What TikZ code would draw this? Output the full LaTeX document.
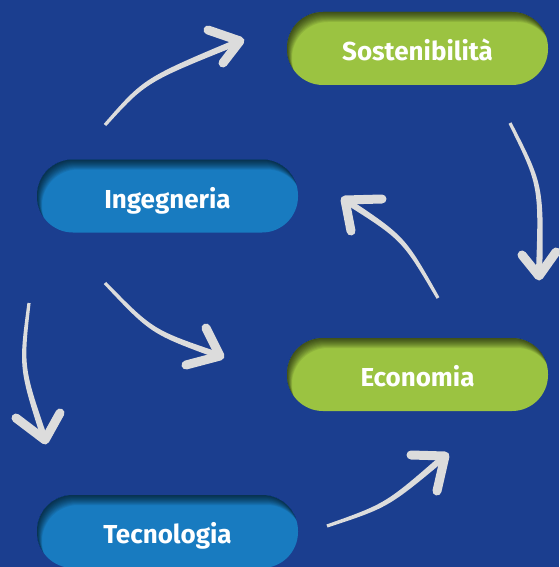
\documentclass[tikz,border=0pt]{standalone}
\usepackage{fontspec}
\usetikzlibrary{calc}
\setmainfont{Fira Sans}
\definecolor{bg}{HTML}{1B3E8F}
\definecolor{pgreen}{HTML}{9BC341}
\definecolor{pblue}{HTML}{187BC0}
\definecolor{arr}{HTML}{DCDCDC}
% tapered shaft: start, control, end, half width at start, half width at end
\newcommand\mytaper[5]{%
  \coordinate (tL0) at ($(#1)!#4!90:(#2)$);
  \coordinate (tR0) at ($(#1)!#4!-90:(#2)$);
  \coordinate (tL2) at ($(#3)!#5!-90:(#2)$);
  \coordinate (tR2) at ($(#3)!#5!90:(#2)$);
  \fill[arr] (tL0) .. controls ($(#2)+0.5*(tL0)-0.5*(#1)+0.5*(tL2)-0.5*(#3)$) .. (tL2)
    -- (tR2) .. controls ($(#2)+0.5*(tR0)-0.5*(#1)+0.5*(tR2)-0.5*(#3)$) .. (tR0) -- cycle;
}
\begin{document}
\begin{tikzpicture}[x=1pt,y=-1pt,
  pill/.style={rectangle, rounded corners=36pt, minimum width=261pt, minimum height=73pt,
    inner sep=0pt, text=white, font=\fontsize{26}{30}\selectfont\bfseries,
    text height=24pt, text depth=0pt,
    path picture={
      \foreach \k in {1,...,10}{
        \fill[black,opacity=0.08,even odd rule]
          ([xshift=-20pt,yshift=20pt]path picture bounding box.north west) rectangle
          ([xshift=20pt,yshift=-20pt]path picture bounding box.south east)
          [rounded corners=36pt]
          ([xshift=0.5*\k pt,yshift=-\k pt]path picture bounding box.north west) rectangle
          ([xshift=0.5*\k pt,yshift=-\k pt]path picture bounding box.south east);
      }
    }},
  head/.style={draw=arr, line width=9pt, line cap=round, line join=round}
]
\useasboundingbox (0,0) rectangle (559,567);
\fill[bg] (0,0) rectangle (559,567);

\node[pill, fill=pgreen] (sost) at (417.5,48.5) {Sostenibilità};
\node[pill, fill=pblue]  (ing)  at (167.5,196) {Ingegneria};
\node[pill, fill=pgreen] (eco)  at (417.5,374.5) {Economia};
\node[pill, fill=pblue]  (tec)  at (167.5,531.5) {Tecnologia};

% arrow 1: Ingegneria -> Sostenibilita
\coordinate (a1s) at (105,125); \coordinate (a1c) at (145,80); \coordinate (a1t) at (240,41);
\mytaper{a1s}{a1c}{a1t}{1.6pt}{3.2pt}
\draw[head] (208,30) -- (a1t) -- (223,63);
% arrow 2: Sostenibilita -> Economia
\coordinate (a2s) at (510,123); \coordinate (a2c) at (541.5,185.5); \coordinate (a2t) at (539,276);
\mytaper{a2s}{a2c}{a2t}{1.6pt}{3.2pt}
\draw[head] (522,255) -- (a2t) -- (556,252);
% arrow 3: Economia -> Ingegneria
\coordinate (a3s) at (438,298); \coordinate (a3c) at (403.5,238); \coordinate (a3t) at (345,200);
\mytaper{a3s}{a3c}{a3t}{1.6pt}{3.2pt}
\draw[head] (382,199) -- (a3t) -- (351,231);
% arrow 4: Ingegneria -> Economia
\coordinate (a4s) at (105,283); \coordinate (a4c) at (152,332); \coordinate (a4t) at (220,356);
\mytaper{a4s}{a4c}{a4t}{1.6pt}{3.2pt}
\draw[head] (206,328) -- (a4t) -- (186,365);
% arrow 5: Ingegneria -> Tecnologia
\coordinate (a5s) at (29,303); \coordinate (a5c) at (21,367.5); \coordinate (a5t) at (45,440);
\mytaper{a5s}{a5c}{a5t}{1.6pt}{3.2pt}
\draw[head] (16,418) -- (a5t) -- (60,413);
% arrow 6: Tecnologia -> Economia
\coordinate (a6s) at (327,526); \coordinate (a6c) at (387,505.5); \coordinate (a6t) at (445,456);
\mytaper{a6s}{a6c}{a6t}{1.6pt}{3.2pt}
\draw[head] (411,455) -- (a6t) -- (437,491);
\end{tikzpicture}
\end{document}
